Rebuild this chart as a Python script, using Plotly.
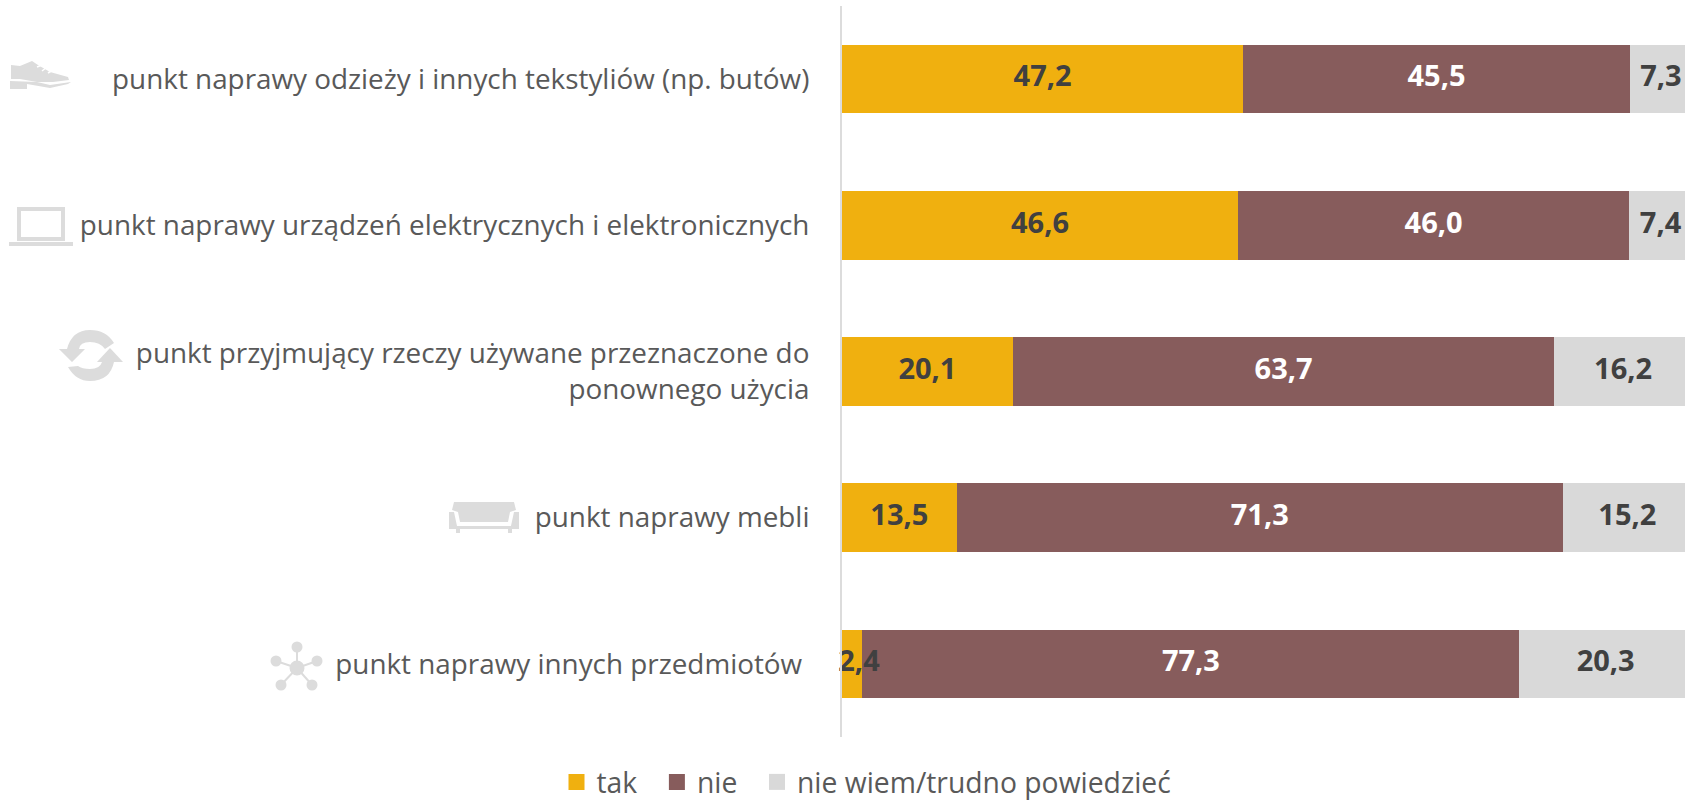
import plotly.graph_objects as go

categories = [
    "punkt naprawy odzieży i innych tekstyliów (np. butów)",
    "punkt naprawy urządzeń elektrycznych i elektronicznych",
    "punkt przyjmujący rzeczy używane przeznaczone do<br>ponownego użycia",
    "punkt naprawy mebli",
    "punkt naprawy innych przedmiotów\u00a0",
]
tak = [47.2, 46.6, 20.1, 13.5, 2.4]
nie = [45.5, 46.0, 63.7, 71.3, 77.3]
nie_wiem = [7.3, 7.4, 16.2, 15.2, 20.3]
legend_names = ["tak\u00a0\u00a0", "nie\u00a0\u00a0", "nie wiem/trudno powiedzieć"]
# the reference sets the narrow "2,4" label slightly right of its bar's centre
tak_label_nudge = [0, 0, 0, 0, 0.8]
no_nudge = [0, 0, 0, 0, 0]

W, H = 1685, 802
ML, MR, MT, MB = 842, 0, 6, 65
PW, PH = W - ML - MR, H - MT - MB
ICON = "#dcdcdc"


def fx(x):
    return (x - ML) / PW


def fy(y):
    return 1 - (y - MT) / PH


def path(spec):
    """Icon outline written in page pixels, converted to paper fractions."""
    out, nums = [], []
    for tok in spec.split():
        if tok.isalpha():
            out.append(tok)
        else:
            nums.append(float(tok))
            if len(nums) == 2:
                out.append(f"{fx(nums[0]):.5f},{fy(nums[1]):.5f}")
                nums = []
    return " ".join(out)


def icon(spec, color=ICON):
    return dict(type="path", xref="paper", yref="paper", path=path(spec),
                fillcolor=color, line=dict(width=0), layer="above")


def circle(cx, cy, r, color=ICON):
    return dict(type="circle", xref="paper", yref="paper",
                x0=fx(cx - r), x1=fx(cx + r), y0=fy(cy + r), y1=fy(cy - r),
                fillcolor=color, line=dict(width=0), layer="above")


def line(x0, y0, x1, y1, width=2, color=ICON):
    return dict(type="line", xref="paper", yref="paper", x0=fx(x0), x1=fx(x1),
                y0=fy(y0), y1=fy(y1), line=dict(color=color, width=width), layer="above")


shapes = [
    # shoe
    icon("M 11 65 L 20 66 L 32 61 L 38 65 L 50 72 L 68 77 L 69 80 L 53 82 L 37 82 L 20 79 L 11 79 Z"),
    icon("M 10 81 L 37 82 L 50 85 L 71 82 L 68 84 L 50 88 L 27 84 L 27 89 L 10 89 Z"),
    line(37, 67, 42, 65, 1.5, "white"), line(42, 71, 47, 67, 1.5, "white"), line(48, 73, 53, 70, 1.5, "white"),
    # laptop
    dict(type="rect", xref="paper", yref="paper", x0=fx(19), x1=fx(63), y0=fy(239), y1=fy(209),
         fillcolor="rgba(0,0,0,0)", line=dict(color=ICON, width=4), layer="above"),
    icon("M 9 242 L 73 242 L 73 246 L 9 246 Z"),
    # recycle arrows
    icon("M 59 349 L 67 349 Q 72 330 90 330 Q 106 330 114 343 L 105 349 Q 100 342 90 342 Q 80 342 79 349 L 85 349 L 72 362 Z"),
    icon("M 123 362 L 114 362 Q 110 381 90 381 Q 76 381 68 367 L 78 366 Q 82 369 90 369 Q 100 369 102 362 L 97 362 L 110 348 Z"),
    # sofa
    icon("M 454 502 L 514 502 L 516 510 L 510 512 L 508 522 L 460 522 L 458 512 L 452 510 Z"),
    icon("M 449 512 L 454 512 L 457 526 L 511 526 L 514 512 L 519 512 L 519 529 L 512 529 L 512 533 "
         "L 508 533 L 508 529 L 460 529 L 460 533 L 456 533 L 456 529 L 449 529 Z"),
]
# network
for nx, ny in [(297, 647), (276, 661), (317, 661), (281, 685), (312, 685)]:
    shapes.append(line(297, 668, nx, ny))
    shapes.append(circle(nx, ny, 5.5))
shapes.append(circle(297, 668, 7.5))

series = [
    (legend_names[0], tak, "#f0b00f", "#404040", tak_label_nudge),
    (legend_names[1], nie, "#875c5c", "#ffffff", no_nudge),
    (legend_names[2], nie_wiem, "#d9d9d9", "#404040", no_nudge),
]

fig = go.Figure()
for name, vals, color, tc, nudge in series:
    fig.add_trace(go.Bar(name=name, y=categories, x=vals, orientation="h", showlegend=False,
                         marker=dict(color=color, line=dict(width=0)), hoverinfo="skip"))

# value labels sit above every bar, so the 2,4 label can run over its neighbours
base = [0.0] * len(categories)
for name, vals, color, tc, nudge in series:
    mid = [b + v / 2 + n for b, v, n in zip(base, vals, nudge)]
    base = [b + v for b, v in zip(base, vals)]
    fig.add_trace(go.Scatter(x=mid, y=categories, mode="text", showlegend=False, cliponaxis=False,
                             text=[f"{v:.1f}".replace(".", ",") for v in vals],
                             textposition="middle center", hoverinfo="skip",
                             textfont=dict(family="Open Sans", size=29, color=tc, weight=700)))

# legend keys
for name, vals, color, tc, nudge in series:
    fig.add_trace(go.Scatter(x=[None], y=[None], mode="markers", name=name,
                             marker=dict(symbol="square", size=19, color=color)))

fig.update_layout(
    width=W, height=H, autosize=False,
    barmode="stack", bargap=0.53,
    margin=dict(l=ML, r=MR, t=MT, b=MB, pad=0, autoexpand=False),
    paper_bgcolor="white", plot_bgcolor="white",
    font=dict(family="Open Sans", color="#595959"),
    shapes=shapes,
    showlegend=True,
    legend=dict(orientation="h", x=fx(556.5), xanchor="left", y=fy(757), yanchor="top",
                traceorder="normal", font=dict(family="Open Sans", size=28.3, color="#595959")),
    xaxis=dict(range=[0, 99.18], visible=False, fixedrange=True),
    yaxis=dict(autorange="reversed", type="category",
               categoryorder="array", categoryarray=categories,
               showline=True, linecolor="#dcdcdc",
               linewidth=2, ticks="outside", ticklen=25, tickcolor="rgba(0,0,0,0)",
               showgrid=False, zeroline=False, automargin=False,
               tickfont=dict(family="Open Sans", size=27.85, color="#595959")),
)

fig.write_html("out.html", config={"displayModeBar": False},
               post_script="document.body.style.margin='0';")
